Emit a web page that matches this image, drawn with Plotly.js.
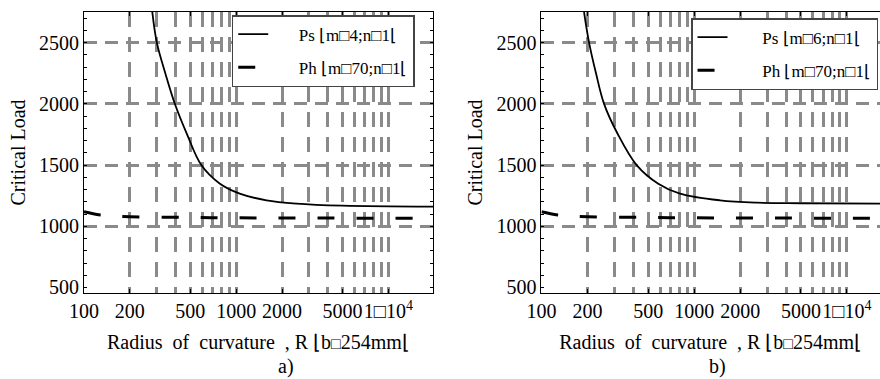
<!DOCTYPE html>
<html><head><meta charset="utf-8">
<script src="https://cdn.plot.ly/plotly-3.0.1.min.js"></script>
<style>html,body{margin:0;padding:0;background:#fff}#chart{width:880px;height:379px}</style>
</head><body><div id="chart"></div>
<script>
// Panel a) data
const psA_R = [281, 301, 344, 398, 474, 590, 778, 1055, 1581, 2489, 5000, 20000];
const psA_P = [2750, 2500, 2240, 1990, 1755, 1500, 1350, 1267, 1212, 1185, 1168, 1160];
const phA_R = [100, 128, 200, 500, 1000, 3000, 20000];
const phA_P = [1118, 1092, 1078, 1072, 1069, 1067, 1066];
// Panel b) data
const psB_R = [190, 205, 228, 257, 314, 420, 582, 807, 1476, 2570, 5000, 17000];
const psB_P = [2750, 2500, 2245, 2000, 1760, 1500, 1348, 1267, 1212, 1193, 1188, 1185];
const phB_R = [100, 128, 200, 500, 1000, 3000, 17000];
const phB_P = [1118, 1092, 1078, 1072, 1069, 1067, 1066];

const legendA = ['Ps ⌊m□4;n□1⌊', 'Ph ⌊m□70;n□1⌊'];
const legendB = ['Ps ⌊m□6;n□1⌊', 'Ph ⌊m□70;n□1⌊'];

// Tick labels
const xTickVals = [100, 200, 300, 400, 500, 600, 700, 800, 900, 1000, 2000, 3000, 4000, 5000, 6000, 7000, 8000, 9000, 10000, 20000];
const xTickText = ['100', '200', '', '', '500', '', '', '', '', '1000', '2000', '', '', '5000', '', '', '', '', '1□10<sup>4</sup>', ''];
const xGridVals = [200, 300, 400, 500, 600, 700, 800, 900, 1000, 2000, 3000, 4000, 5000, 6000, 7000, 8000, 9000, 10000];
const yTickVals = [500, 600, 700, 800, 900, 1000, 1100, 1200, 1300, 1400, 1500, 1600, 1700, 1800, 1900, 2000, 2100, 2200, 2300, 2400, 2500, 2600, 2700];
const yTickText = ['500', '', '', '', '', '1000', '', '', '', '', '1500', '', '', '', '', '2000', '', '', '', '', '2500', '', ''];
const yGridVals = [1000, 1500, 2000, 2500];

const FONT = 'Liberation Serif';
const NB = '\u00a0';
const pad = NB.repeat(6);

const traces = [
  {x: psA_R, y: psA_P, name: pad + legendA[0], mode: 'lines', line: {color: '#000', width: 1.8, shape: 'spline'}, xaxis: 'x', yaxis: 'y', legend: 'legend', legendgroup: 'a1'},
  {x: phA_R, y: phA_P, name: pad + legendA[1], mode: 'lines', line: {color: '#000', width: 3, dash: '17px,22px', shape: 'spline'}, xaxis: 'x', yaxis: 'y', legend: 'legend', legendgroup: 'a2'},
  {x: psB_R, y: psB_P, name: pad + NB + legendB[0], mode: 'lines', line: {color: '#000', width: 1.8, shape: 'spline'}, xaxis: 'x2', yaxis: 'y2', legend: 'legend2', legendgroup: 'b1'},
  {x: phB_R, y: phB_P, name: pad + NB + legendB[1], mode: 'lines', line: {color: '#000', width: 3, dash: '17px,22px', shape: 'spline'}, xaxis: 'x2', yaxis: 'y2', legend: 'legend2', legendgroup: 'b2'}
];

const xTitle = 'Radius' + NB + NB + 'of' + NB + NB + 'curvature' + NB + NB + ', R ⌊b<span style="font-size:16px">□</span>254mm⌊';

function xAxis(domain, range, anchor) {
  return {
    type: 'log', domain: domain, range: range, anchor: anchor,
    tickmode: 'array', tickvals: xTickVals, ticktext: xTickText, tickangle: 0,
    ticks: 'inside', ticklen: 4, tickcolor: '#000', tickwidth: 1,
    showline: true, linecolor: '#000', linewidth: 1, mirror: 'ticks',
    showgrid: false, zeroline: false,
    tickfont: {family: FONT, size: 20, color: '#000'},
    minor: {tickmode: 'array', tickvals: xGridVals, ticks: 'outside', ticklen: 0,
            showgrid: true, gridcolor: '#8a8a8a', gridwidth: 3, griddash: '15px,10px'},
    title: {text: xTitle, font: {family: FONT, size: 20, color: '#000'}, standoff: 13}
  };
}
function yAxis(anchor, mirror) {
  return {
    domain: [0, 1], range: [455, 2750], anchor: anchor,
    tickmode: 'array', tickvals: yTickVals, ticktext: yTickText,
    ticks: 'inside', ticklen: 3, tickcolor: '#000', tickwidth: 1,
    showline: true, linecolor: '#000', linewidth: 1, mirror: mirror,
    showgrid: false, zeroline: false,
    tickfont: {family: FONT, size: 20, color: '#000'},
    minor: {tickmode: 'array', tickvals: yGridVals, ticks: 'outside', ticklen: 0,
            showgrid: true, gridcolor: '#8a8a8a', gridwidth: 3, griddash: '13px,8px'},
    title: {text: 'Critical Load', font: {family: FONT, size: 20, color: '#000'}, standoff: 8}
  };
}

const legendStyle = {
  bgcolor: '#fff', bordercolor: '#444', borderwidth: 1.5,
  font: {family: FONT, size: 17, color: '#000'},
  traceorder: 'grouped', tracegroupgap: 8, yanchor: 'top', xanchor: 'left'
};

const layout = {
  width: 880, height: 379,
  font: {family: FONT, size: 20, color: '#000'},
  margin: {l: 84, r: 0, t: 12, b: 86, autoexpand: false},
  paper_bgcolor: '#fff', plot_bgcolor: '#fff',
  showlegend: true,
  xaxis: xAxis([0, 0.4384], [2, 4.293], 'y'),
  yaxis: yAxis('x', 'ticks'),
  xaxis2: xAxis([0.5747, 1], [2, 4.217], 'y2'),
  yaxis2: yAxis('x2', false),
  legend: Object.assign({x: 0.1856, y: 0.9893}, legendStyle),
  legend2: Object.assign({x: 0.7626, y: 0.9786}, legendStyle),
  annotations: [
    {text: 'a)', xref: 'paper', yref: 'paper', x: 0.2412, y: -0.2633, yanchor: 'middle', showarrow: false, font: {family: FONT, size: 20, color: '#000'}},
    {text: 'b)', xref: 'paper', yref: 'paper', x: 0.8090, y: -0.2633, yanchor: 'middle', showarrow: false, font: {family: FONT, size: 20, color: '#000'}}
  ]
};

Plotly.newPlot('chart', traces, layout, {displayModeBar: false, staticPlot: true});
</script>
</body></html>
